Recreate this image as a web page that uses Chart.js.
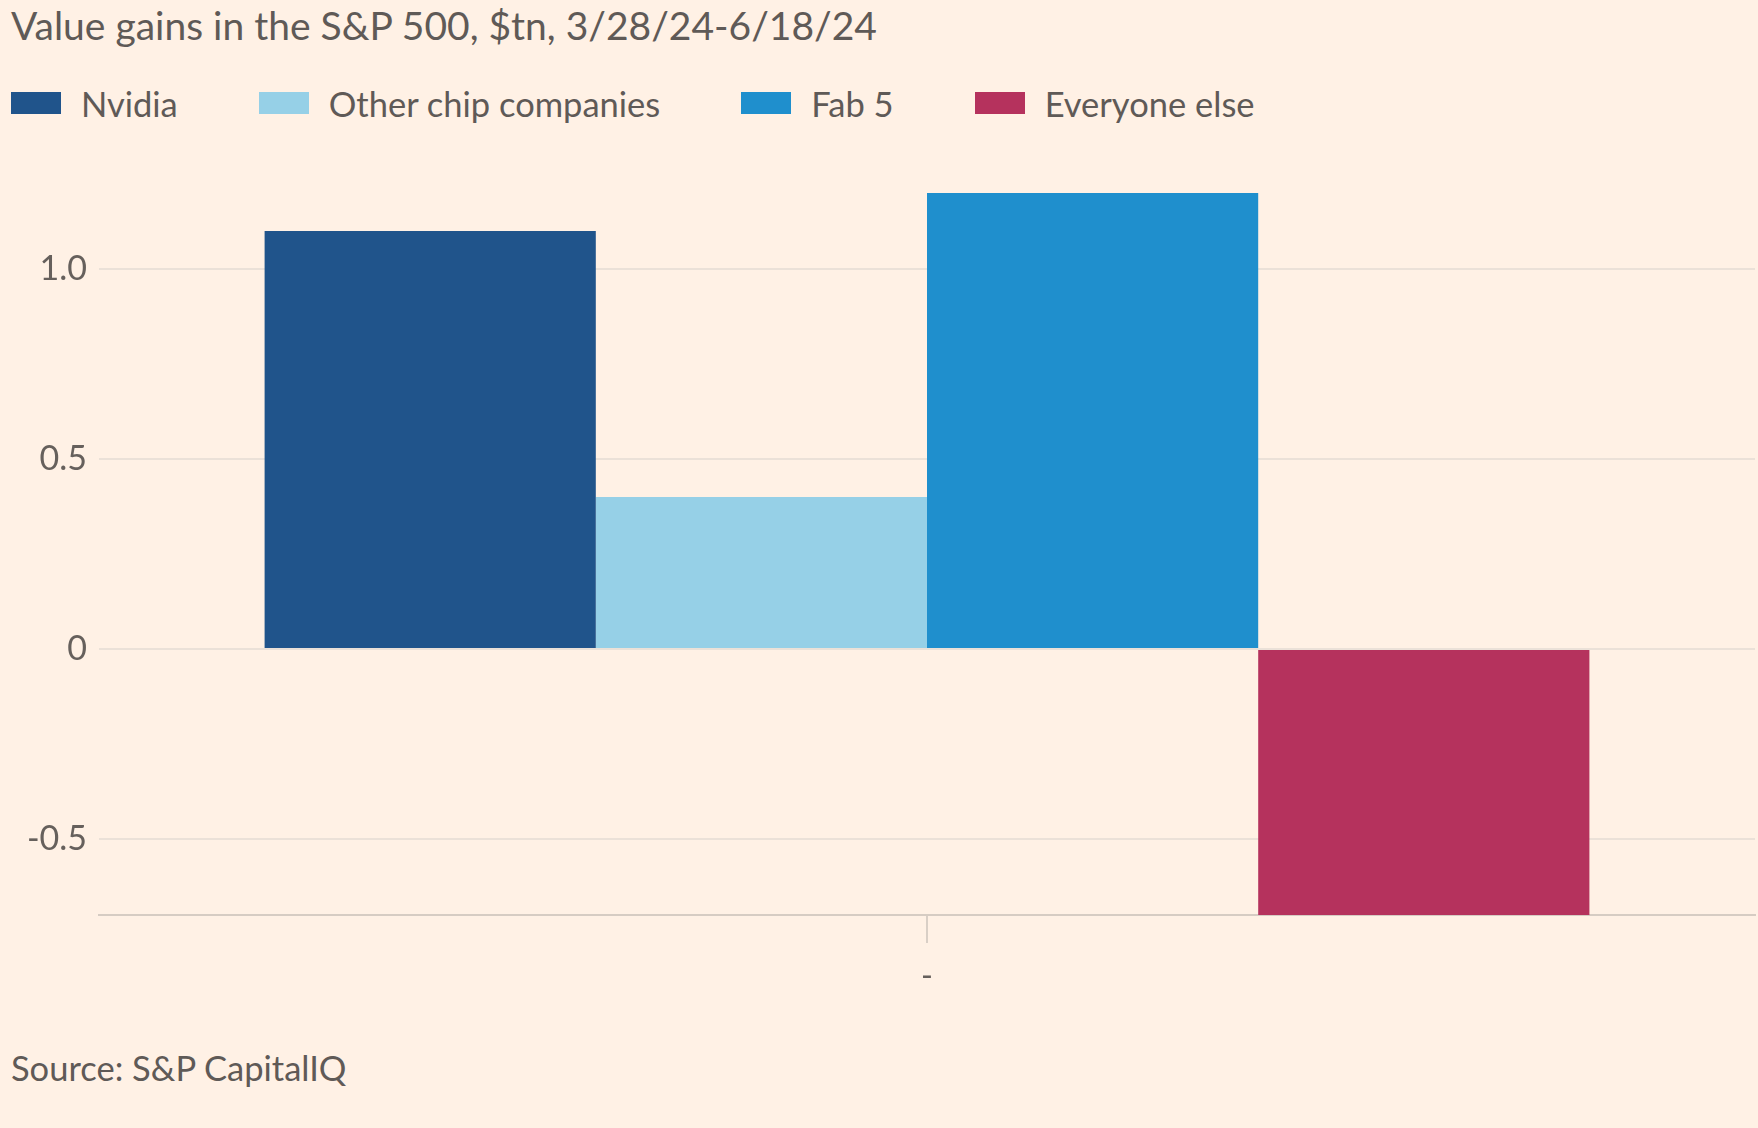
<!DOCTYPE html>
<html>
<head>
<meta charset="utf-8">
<script src="https://cdn.jsdelivr.net/npm/chart.js@4"></script>
<style>
  html, body { margin: 0; padding: 0; background: #fff1e5; }
  body { width: 1758px; height: 1128px; position: relative; overflow: hidden; font-family: Lato, "Noto Sans", sans-serif; color: #5f5a57; }
  #title { position: absolute; left: 11px; top: 1px; font-size: 39px; line-height: 48px; white-space: nowrap; }
  #legend { position: absolute; left: 11px; top: 82px; height: 42px; display: flex; align-items: center; font-size: 34.5px; }
  .item { display: flex; align-items: center; margin-right: 81px; white-space: nowrap; }
  .swatch { width: 50px; height: 22px; margin-right: 20px; }
  #source { position: absolute; left: 11px; top: 1046px; font-size: 34.5px; line-height: 44px; white-space: nowrap; }
  #wrap { position: absolute; left: 0; top: 150px; width: 1758px; height: 850px; }
</style>
</head>
<body>
<div id="title">Value gains in the S&amp;P 500, $tn, 3/28/24-6/18/24</div>
<div id="legend"></div>
<div id="wrap"><canvas id="chart"></canvas></div>
<div id="source">Source: S&amp;P CapitalIQ</div>
<script>
const categories = ['-'];
const seriesNames = ['Nvidia', 'Other chip companies', 'Fab 5', 'Everyone else'];
const seriesValues = [[1.1], [0.4], [1.2], [-0.7]];
const seriesColors = ['#20548b', '#96d0e7', '#1f8fcd', '#b5325d'];
const yTicks = [-0.5, 0, 0.5, 1.0];
const yTickLabels = ['-0.5', '0', '0.5', '1.0'];

document.getElementById('legend').innerHTML = seriesNames.map((n, i) => `
  <div class="item"><div class="swatch" style="background:${seriesColors[i]}"></div>${n}</div>
`).join('');

const grey = '#66605c';

new Chart(document.getElementById('chart').getContext('2d'), {
  type: 'bar',
  data: {
    labels: categories,
    datasets: seriesNames.map((n, i) => ({
      label: n, data: seriesValues[i], backgroundColor: seriesColors[i],
      borderWidth: 0, categoryPercentage: 0.8, barPercentage: 1.0
    }))
  },
  options: {
    responsive: true,
    maintainAspectRatio: false,
    animation: false,
    layout: { padding: { top: 43, right: 3, left: 0, bottom: 0 } },
    plugins: { legend: { display: false }, tooltip: { enabled: false } },
    scales: {
      x: {
        afterFit(s) { s.height = 85; },
        grid: { offset: false, drawOnChartArea: false, drawTicks: true, tickLength: 28, color: '#d9cfc6', lineWidth: 2 },
        border: { display: true, color: '#d6ccc3', width: 2 },
        ticks: { color: grey, padding: 14, font: { family: 'Lato', size: 32 } }
      },
      y: {
        min: -0.7, max: 1.2,
        afterFit(s) { s.width = 99; },
        afterBuildTicks(s) { s.ticks = yTicks.map(v => ({ value: v })); },
        grid: { drawTicks: false, color: '#ebe1d8', lineWidth: 2 },
        border: { display: false },
        ticks: {
          color: grey, padding: 12, font: { family: 'Lato', size: 34 },
          callback: v => yTickLabels[yTicks.indexOf(v)]
        }
      }
    }
  }
});
</script>
</body>
</html>
